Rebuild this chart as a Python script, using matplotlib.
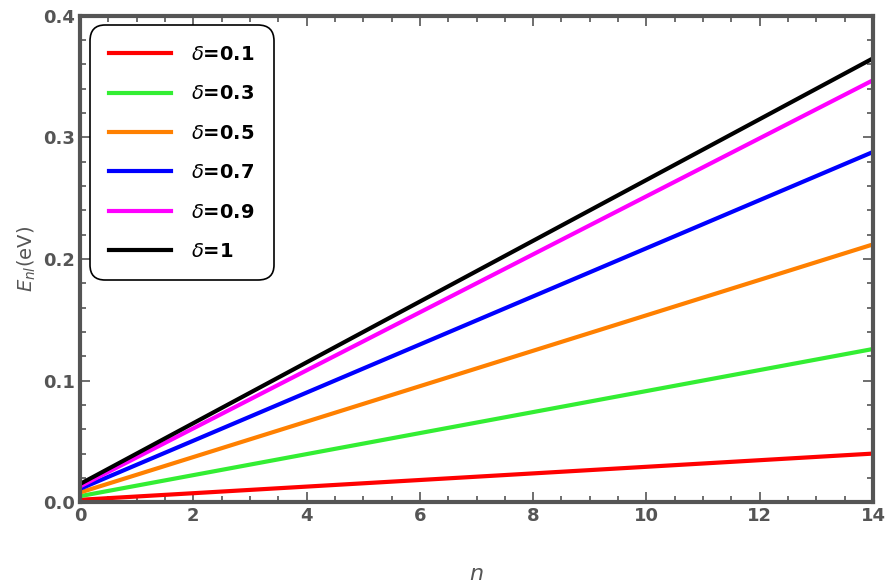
import numpy as np
import matplotlib.pyplot as plt
from matplotlib.ticker import MultipleLocator

# values
deltas = ["0.1", "0.3", "0.5", "0.7", "0.9", "1"]
n_ends = [0, 14]
e_start = [0.002, 0.005, 0.008, 0.011, 0.013, 0.015]
e_end = [0.040, 0.126, 0.212, 0.288, 0.347, 0.365]
colors = ["#ff0000", "#33ee33", "#ff8000", "#0000ff", "#ff00ff", "#000000"]

gray = "#555555"
fig, ax = plt.subplots(figsize=(8.89, 5.84), dpi=100)
fig.subplots_adjust(left=0.09, right=0.982, top=0.973, bottom=0.14)

for d, s, e, c in zip(deltas, e_start, e_end, colors):
    ax.plot(n_ends, [s, e], color=c, lw=3, label=r"$\boldsymbol{\delta}$=" + d
            if False else r"$\mathit{\delta}$=" + d)

ax.set_xlim(0, 14)
ax.set_ylim(0, 0.4)
ax.xaxis.set_major_locator(MultipleLocator(2))
ax.xaxis.set_minor_locator(MultipleLocator(0.5))
ax.yaxis.set_major_locator(MultipleLocator(0.1))
ax.yaxis.set_minor_locator(MultipleLocator(0.02))
ax.tick_params(which="both", direction="in", top=True, right=True, colors=gray,
               labelsize=13, width=1.2)
ax.tick_params(which="major", length=7)
ax.tick_params(which="minor", length=4)
for lab in ax.get_xticklabels() + ax.get_yticklabels():
    lab.set_fontweight("bold")
for sp in ax.spines.values():
    sp.set_color(gray)
    sp.set_linewidth(3)

ax.set_xlabel(r"$\it{n}$", fontsize=16, color=gray, labelpad=28)
ax.set_ylabel(r"$\it{E}_{nl}$(eV)", fontsize=14, color=gray)

leg = ax.legend(loc="upper left", frameon=True, fancybox=True,
                edgecolor="black", handlelength=3.2, labelspacing=1.05,
                borderpad=1.0, handletextpad=1.0,
                prop={"weight": "bold", "size": 14})
leg.get_frame().set_linewidth(1.2)
leg.get_frame().set_alpha(1)
leg.get_frame().set_boxstyle("round", pad=0, rounding_size=0.8)

fig.savefig("out.png")
